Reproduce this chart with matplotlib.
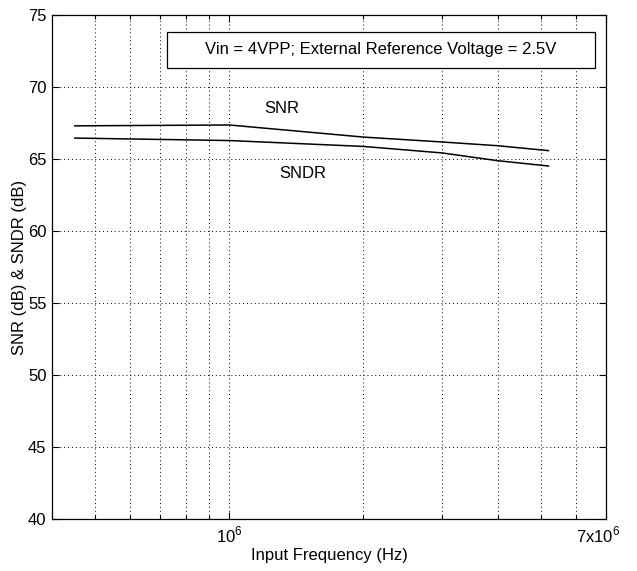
import numpy as np
import matplotlib.pyplot as plt
import matplotlib.transforms as mtransforms
from matplotlib.patches import Rectangle
from matplotlib.ticker import FixedLocator, NullFormatter

plt.rcParams['font.family'] = ['Liberation Sans', 'DejaVu Sans']
plt.rcParams['mathtext.fontset'] = 'custom'
plt.rcParams['mathtext.rm'] = 'Liberation Sans'

# input frequency (Hz) and measured dynamic performance (dB)
freq = [4.5e5, 1e6, 2e6, 3e6, 4e6, 5.2e6]
snr = [67.30, 67.36, 66.52, 66.18, 65.92, 65.58]
sndr = [66.45, 66.28, 65.87, 65.42, 64.88, 64.51]

fig = plt.figure(figsize=(6.37, 5.71), dpi=100)
ax = fig.add_axes([0.0816, 0.0911, 0.8697, 0.8827])

ax.plot(freq, snr, color='black', linewidth=1.1)
ax.plot(freq, sndr, color='black', linewidth=1.1)

ax.set_xscale('log')
ax.set_xlim(4e5, 7e6)
ax.set_ylim(40, 75)

ax.xaxis.set_major_locator(FixedLocator([1e6, 7e6]))
ax.set_xticklabels([r'$10^6$', r'7x10$^6$'])
minors = [5e5, 6e5, 7e5, 8e5, 9e5, 2e6, 3e6, 4e6, 5e6, 6e6]
ax.xaxis.set_minor_locator(FixedLocator(minors))
ax.xaxis.set_minor_formatter(NullFormatter())
ax.set_yticks(np.arange(40, 76, 5))

ax.tick_params(which='both', direction='in', top=True, right=True,
               labelsize=12, width=0.8)
ax.tick_params(which='major', length=5)
ax.tick_params(which='minor', length=3)
ax.tick_params(axis='x', pad=4)
ax.tick_params(axis='y', pad=4)

# nudge the last x label a little to the left
lab = ax.get_xticklabels()[-1]
lab.set_transform(lab.get_transform() +
                  mtransforms.ScaledTranslation(-8 / 100, 0, fig.dpi_scale_trans))

ax.grid(True, which='both', linestyle=(0, (1, 3)), color='black', linewidth=0.7)

for s in ax.spines.values():
    s.set_linewidth(0.9)

ax.set_xlabel('Input Frequency (Hz)', fontsize=12)
ax.set_ylabel('SNR (dB) & SNDR (dB)', fontsize=12)
ax.xaxis.set_label_coords(0.5, -0.058)
ax.yaxis.set_label_coords(-0.045, 0.5)

ax.text(1.31e6, 68.5, 'SNR', fontsize=12, ha='center', va='center')
ax.text(1.46e6, 64.0, 'SNDR', fontsize=12, ha='center', va='center')

# annotation box with test conditions
box = Rectangle((0.2076, 0.895), 0.7724, 0.071, transform=ax.transAxes,
                facecolor='white', edgecolor='black', linewidth=0.9, zorder=3)
ax.add_patch(box)
ax.text(0.5938, 0.9305, 'Vin = 4VPP; External Reference Voltage = 2.5V',
        transform=ax.transAxes, fontsize=12, ha='center', va='center', zorder=4)

fig.savefig('out.png', dpi=100)
